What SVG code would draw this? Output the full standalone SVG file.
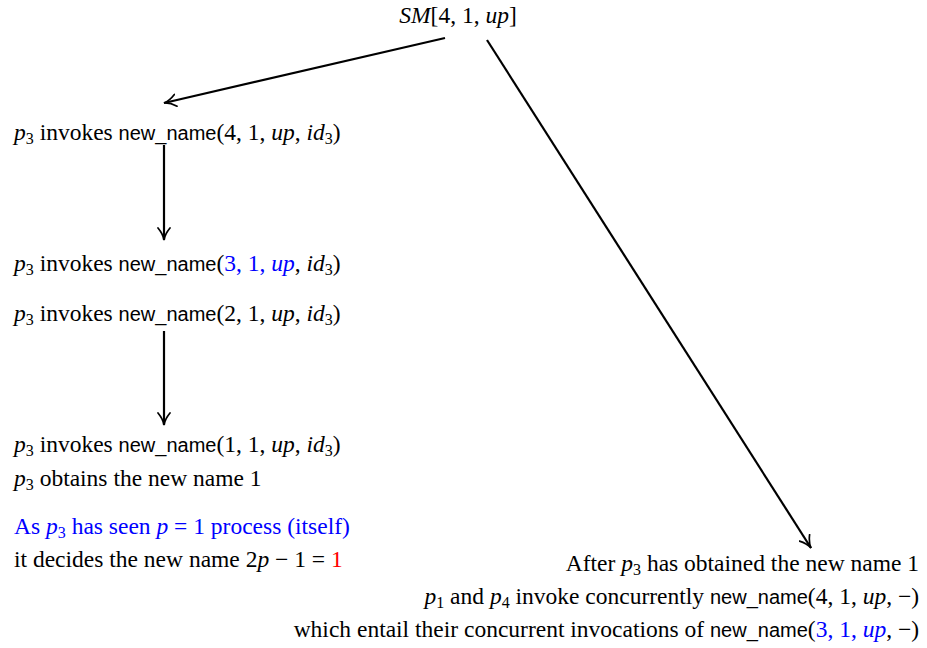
<svg xmlns="http://www.w3.org/2000/svg" width="927" height="648" viewBox="0 0 927 648">
<defs>
<marker id="arr" viewBox="0 0 14 14" refX="13" refY="7" markerWidth="14" markerHeight="14" markerUnits="userSpaceOnUse" orient="auto">
<path d="M1,1 Q7,6 13,7 Q7,8 1,13" fill="none" stroke="#000" stroke-width="1.7" stroke-linecap="round"/>
</marker>
<style>
text{font-family:"Liberation Serif","Times New Roman",serif;font-size:23.5px;fill:#000}
.m{font-style:italic}
.sf{font-family:"Liberation Sans",Arial,sans-serif;font-size:20px}
.b{fill:#0000ff}
.r{fill:#ff0000}
.sub{font-size:16px}
.conn line{stroke:#000;stroke-width:2.2;fill:none;marker-end:url(#arr)}
</style>
</defs>
<rect width="927" height="648" fill="#fff"/>
<g id="connectors" class="conn">
<line x1="445" y1="38" x2="164" y2="103"/>
<line x1="487" y1="40" x2="811" y2="548"/>
<line x1="164" y1="145" x2="164" y2="240"/>
<line x1="164" y1="331" x2="164" y2="425"/>
</g>
<g id="n-sm"><text x="458" y="23" text-anchor="middle"><tspan class="m">SM</tspan>[4, 1, <tspan class="m">up</tspan>]</text></g>
<g id="n-41"><text x="14" y="140"><tspan class="m">p</tspan><tspan class="sub" dy="4">3</tspan><tspan dy="-4"> invokes </tspan><tspan class="sf">new_name</tspan>(4, 1, <tspan class="m">up</tspan>, <tspan class="m">id</tspan><tspan class="sub" dy="4">3</tspan><tspan dy="-4">)</tspan></text></g>
<g id="n-31"><text x="14" y="271"><tspan class="m">p</tspan><tspan class="sub" dy="4">3</tspan><tspan dy="-4"> invokes </tspan><tspan class="sf">new_name</tspan>(<tspan class="b">3, 1, </tspan><tspan class="m b">up</tspan>, <tspan class="m">id</tspan><tspan class="sub" dy="4">3</tspan><tspan dy="-4">)</tspan></text></g>
<g id="n-21"><text x="14" y="321"><tspan class="m">p</tspan><tspan class="sub" dy="4">3</tspan><tspan dy="-4"> invokes </tspan><tspan class="sf">new_name</tspan>(2, 1, <tspan class="m">up</tspan>, <tspan class="m">id</tspan><tspan class="sub" dy="4">3</tspan><tspan dy="-4">)</tspan></text></g>
<g id="n-11">
<text x="14" y="452"><tspan class="m">p</tspan><tspan class="sub" dy="4">3</tspan><tspan dy="-4"> invokes </tspan><tspan class="sf">new_name</tspan>(1, 1, <tspan class="m">up</tspan>, <tspan class="m">id</tspan><tspan class="sub" dy="4">3</tspan><tspan dy="-4">)</tspan></text>
<text x="14" y="486"><tspan class="m">p</tspan><tspan class="sub" dy="4">3</tspan><tspan dy="-4"> obtains the new name 1</tspan></text>
<text x="14" y="534" class="b"><tspan>As </tspan><tspan class="m">p</tspan><tspan class="sub" dy="4">3</tspan><tspan dy="-4"> has seen </tspan><tspan class="m">p</tspan> = 1 process (itself)</text>
<text x="14" y="567">it decides the new name 2<tspan class="m">p</tspan> − 1 = <tspan class="r">1</tspan></text>
</g>
<g id="n-right">
<text x="919" y="571" text-anchor="end">After <tspan class="m">p</tspan><tspan class="sub" dy="4">3</tspan><tspan dy="-4"> has obtained the new name 1</tspan></text>
<text x="919" y="604" text-anchor="end"><tspan class="m">p</tspan><tspan class="sub" dy="4">1</tspan><tspan dy="-4"> and </tspan><tspan class="m">p</tspan><tspan class="sub" dy="4">4</tspan><tspan dy="-4"> invoke concurrently </tspan><tspan class="sf">new_name</tspan>(4, 1, <tspan class="m">up</tspan>, −)</text>
<text x="919" y="637" text-anchor="end">which entail their concurrent invocations of <tspan class="sf">new_name</tspan>(<tspan class="b">3, 1, </tspan><tspan class="m b">up</tspan>, −)</text>
</g>
</svg>
